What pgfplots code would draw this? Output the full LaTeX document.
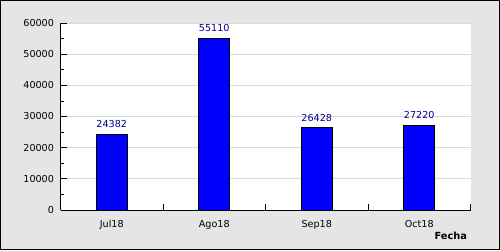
\documentclass[border=0pt]{standalone}
\usepackage{pgfplots}
\pgfplotsset{compat=1.18}
\usepackage{fontspec}
\setmainfont{DejaVu Sans}
\definecolor{bg}{RGB}{229,229,229}
\definecolor{gridc}{RGB}{218,218,218}
\definecolor{lbl}{RGB}{0,0,140}
\begin{document}
\begin{tikzpicture}[x=1pt,y=1pt]
\useasboundingbox (0,0) rectangle (500,250);
\fill[bg] (0,0) rectangle (500,250);
\draw[black, line width=1.2pt] (0.6,0.6) rectangle (499.4,249.4);
\begin{axis}[
  at={(60.5pt,40pt)}, anchor=south west,
  scale only axis, width=410pt, height=187pt,
  xmin=0, xmax=4, ymin=0, ymax=60000,
  axis x line*=bottom, axis y line*=left,
  axis line style={-, black, line width=1pt},
  axis background/.style={fill=white},
  /pgf/number format/1000 sep={},
  /pgf/number format/assume math mode=true,
  scaled y ticks=false,
  ytick={0,10000,...,60000}, minor y tick num=1,
  tick align=inside, major tick length=6pt, minor tick length=3pt,
  tick style={black, line width=0.8pt},
  ymajorgrids, grid style={gridc, line width=0.9pt},
  xtick={0,1,2,3,4}, xticklabels={},
  extra x ticks={0.5,1.5,2.5,3.5},
  extra x tick labels={Jul18,Ago18,Sep18,Oct18},
  extra x tick style={major tick length=0pt, grid=none},
  ticklabel style={font=\fontsize{9.6}{11}\selectfont, black},
  yticklabel style={xshift=-3pt},
  xticklabel style={yshift=-6.5pt},
  xlabel={Fecha},
  xlabel style={at={(axis description cs:1,0)}, anchor=north east, yshift=-19pt, font=\fontsize{9.8}{11}\selectfont\bfseries},
]
\addplot[ybar, bar width=31pt, fill=blue, draw=black, line width=1pt,
  nodes near coords,
  nodes near coords style={lbl, font=\fontsize{9.6}{11}\selectfont, inner sep=2pt, yshift=4pt}]
  coordinates {(0.5,24382) (1.5,55110) (2.5,26428) (3.5,27220)};
\end{axis}
\end{tikzpicture}
\end{document}
